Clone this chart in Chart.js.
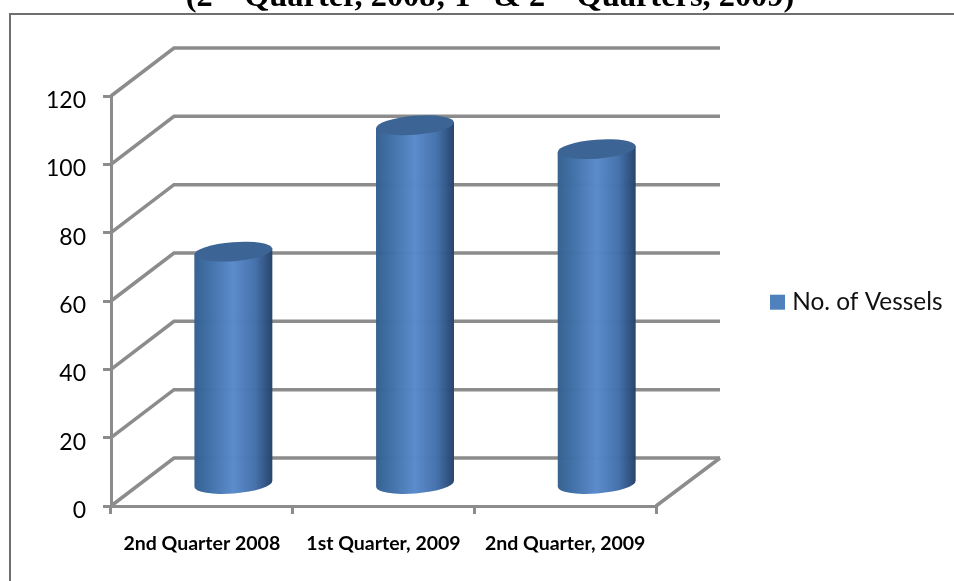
<!DOCTYPE html>
<html>
<head>
<meta charset="utf-8">
<style>
html,body{margin:0;padding:0;background:#fff;width:954px;height:581px;overflow:hidden}
#wrap{position:relative;width:954px;height:581px;overflow:hidden}
#title{position:absolute;left:0;top:-19px;width:980px;text-align:center;font:bold 32.4px "Liberation Serif",serif;color:#000;white-space:nowrap;line-height:28px;z-index:2}
#title sup{font-size:21px;line-height:0}
canvas{position:absolute;left:0;top:0}
</style>
</head>
<body>
<div id="wrap">
<div id="title">(2<sup>nd</sup> Quarter, 2008; 1<sup>st</sup> &amp; 2<sup>nd</sup> Quarters, 2009)</div>
<canvas id="c" width="954" height="581"></canvas>
</div>
<script src="https://cdn.jsdelivr.net/npm/chart.js@4"></script>
<script>
const categories = ["2nd Quarter 2008", "1st Quarter, 2009", "2nd Quarter, 2009"];
const vessels = [68, 105, 98];
const seriesName = "No. of Vessels";
const yTicks = [0, 20, 40, 60, 80, 100, 120];

const GRAY = "#8c8c8c";
const DX = 63, DY = 48;

const scene = {
  id: "scene",
  beforeDraw(chart) {
    const c = chart.ctx;
    c.save();
    c.fillStyle = "#fff";
    c.fillRect(0, 0, chart.width, chart.height);
    c.strokeStyle = "#6f6f6f";
    c.lineWidth = 2;
    c.beginPath();
    c.moveTo(10, 590); c.lineTo(10, 14); c.lineTo(970, 14);
    c.stroke();
    c.restore();
    const lg = chart.legend;
    lg.left = 765; lg.right = 954; lg.top = 280; lg.bottom = 330;
  },
  beforeDatasetsDraw(chart) {
    const c = chart.ctx, y = chart.scales.y, a = chart.chartArea;
    c.save();
    c.strokeStyle = GRAY;
    c.lineWidth = 3.5;
    c.lineJoin = "miter";
    y.ticks.forEach((t, i) => {
      const p = y.getPixelForTick(i);
      c.beginPath();
      c.moveTo(a.left, p);
      c.lineTo(a.left + DX, p - DY);
      c.lineTo(a.right + DX + 1, p - DY);
      c.stroke();
    });
    c.beginPath();
    c.moveTo(a.right, a.bottom);
    c.lineTo(a.right + DX + 1, a.bottom - DY);
    c.stroke();
    c.restore();
  },
  afterDatasetsDraw(chart) {
    const c = chart.ctx, meta = chart.getDatasetMeta(0), y = chart.scales.y;
    const tilt = -4.5 * Math.PI / 180, ry = 9.5;
    meta.data.forEach((bar) => {
      const cx = bar.x + DX / 2, rx = bar.width / 2;
      const yb = y.getPixelForValue(0) - 22, yt = bar.y - 22;
      const g = c.createLinearGradient(cx - rx, 0, cx + rx, 0);
      g.addColorStop(0, "#34608f");
      g.addColorStop(0.2, "#4070a8");
      g.addColorStop(0.5, "#5a8acb");
      g.addColorStop(0.78, "#4370ab");
      g.addColorStop(1, "#25426b");
      const dy = Math.tan(tilt) * rx;
      c.save();
      c.globalAlpha = 0.985;
      c.fillStyle = g;
      c.beginPath();
      c.moveTo(cx - rx, yt - dy);
      c.lineTo(cx + rx, yt + dy);
      c.lineTo(cx + rx, yb + dy);
      c.ellipse(cx, yb, rx, ry, tilt, 0, Math.PI);
      c.closePath();
      c.fill();
      c.globalAlpha = 1;
      c.fillStyle = "#3c6595";
      c.beginPath();
      c.ellipse(cx, yt, rx, ry, tilt, 0, Math.PI * 2);
      c.fill();
      c.restore();
    });
  }
};

new Chart(document.getElementById("c"), {
  type: "bar",
  data: {
    labels: categories,
    datasets: [{
      label: seriesName,
      data: vessels,
      backgroundColor: "rgba(0,0,0,0)",
      borderWidth: 0,
      barThickness: 78
    }]
  },
  options: {
    responsive: false,
    animation: false,
    events: [],
    layout: { padding: { left: 0, top: 96, right: 298, bottom: 0 } },
    plugins: {
      title: { display: false },
      tooltip: { enabled: false },
      legend: {
        display: true,
        position: "chartArea",
        align: "start",
        labels: {
          font: { family: "Lato", size: 24.4 },
          color: "#111",
          boxWidth: 5,
          boxHeight: 5,
          padding: 10,
          generateLabels() {
            return [{ text: seriesName, fillStyle: "#4f81bd", strokeStyle: "#4f81bd", lineWidth: 10, fontColor: "#111" }];
          }
        }
      }
    },
    scales: {
      x: {
        type: "category",
        afterFit(s) { s.height = 75; },
        grid: { display: true, offset: true, drawOnChartArea: false, color: GRAY, lineWidth: 3, tickLength: 8 },
        border: { display: true, color: GRAY, width: 3 },
        ticks: { font: { family: "Lato", size: 19.5, weight: "bold" }, color: "#000", padding: 18, maxRotation: 0, autoSkip: false }
      },
      y: {
        type: "linear",
        min: 0, max: 120,
        afterFit(s) { s.width = 111; },
        afterBuildTicks(s) { s.ticks = yTicks.map(v => ({ value: v })); },
        grid: { display: true, drawOnChartArea: false, color: GRAY, lineWidth: 3, tickLength: 8 },
        border: { display: true, color: GRAY, width: 3 },
        ticks: { font: { family: "Lato", size: 23 }, color: "#000", padding: 17, labelOffset: 4.5 }
      }
    }
  },
  plugins: [scene]
});
</script>
</body>
</html>
